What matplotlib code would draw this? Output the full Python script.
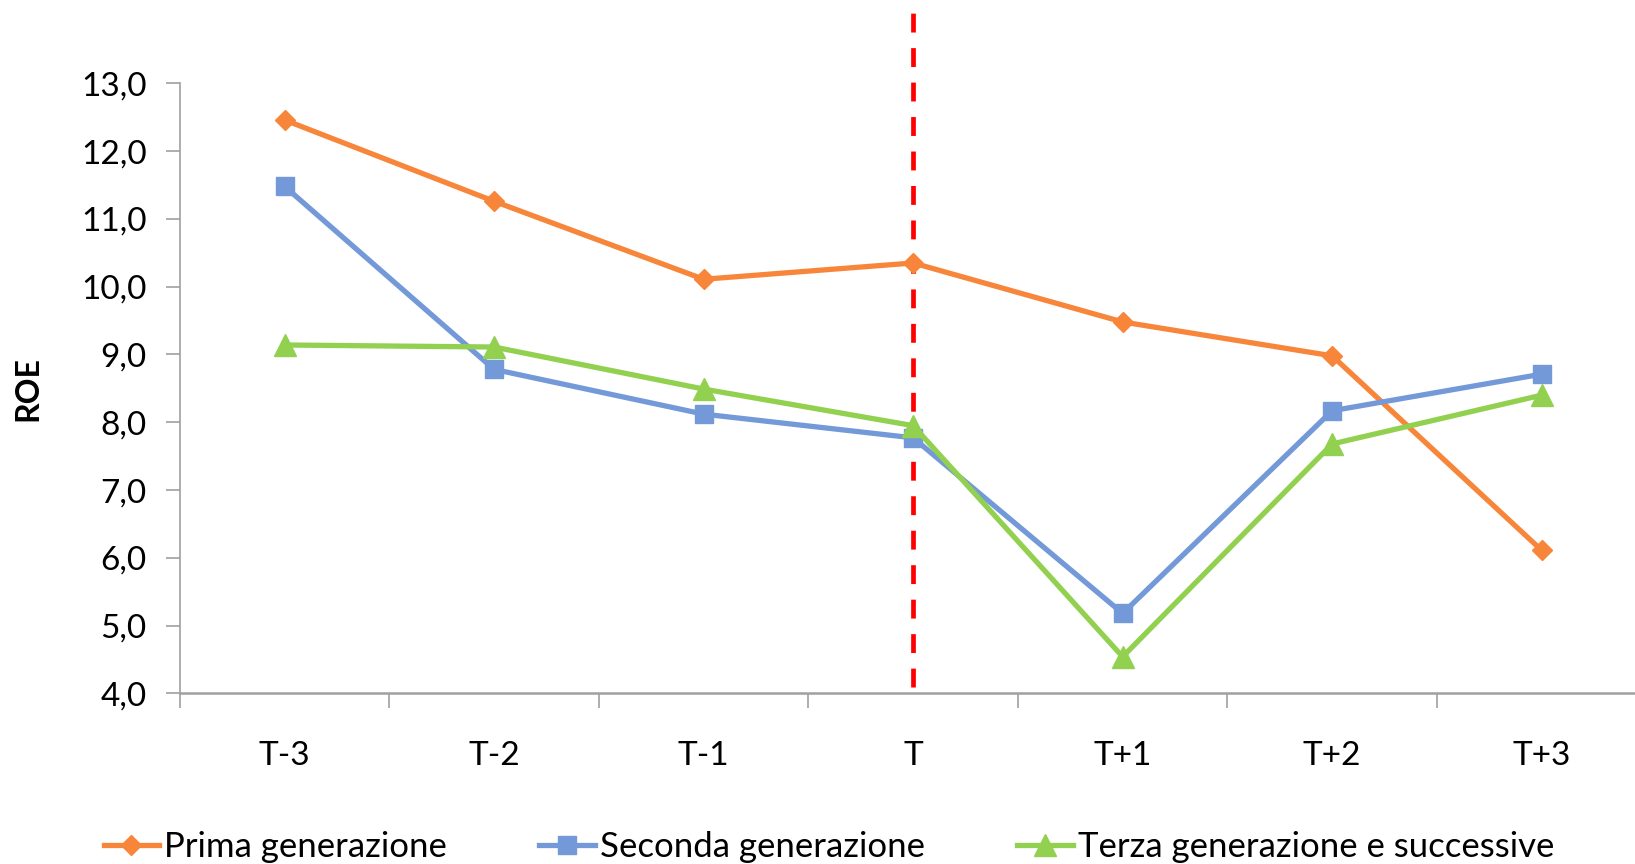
import numpy as np
import matplotlib
matplotlib.use('Agg')
import matplotlib.pyplot as plt
from matplotlib.ticker import FixedLocator

plt.rcParams['font.family'] = ['Lato', 'DejaVu Sans']

periods = ['T-3', 'T-2', 'T-1', 'T', 'T+1', 'T+2', 'T+3']
prima = [12.46, 11.26, 10.11, 10.35, 9.48, 8.98, 6.11]
seconda = [11.48, 8.78, 8.12, 7.77, 5.18, 8.17, 8.71]
terza = [9.14, 9.11, 8.49, 7.95, 4.54, 7.68, 8.40]
names = ['Prima generazione', 'Seconda generazione', 'Terza generazione e successive']
event = 'T'

fig = plt.figure(figsize=(16.35, 8.64), dpi=100)
ax = fig.add_axes([0.110, 0.1975, 0.897, 0.706])

x = np.arange(len(periods))
ax.plot(x, prima, color='#F8863A', lw=3.8, marker='D', ms=10, label=names[0])
ax.plot(x, seconda, color='#7399D8', lw=3.8, marker='s', ms=13.5, label=names[1])
ax.plot(x, terza, color='#92D050', lw=3.8, marker='^', ms=15.5, label=names[2])

# vertical dashed line at the event period
xe = periods.index(event)
ax.plot([xe, xe], [4.1, 14.05], color='#FF0000', lw=3.4, ls=(0, (4, 3.3)), clip_on=False, zorder=1)

ax.set_xlim(-0.5, len(periods) - 0.5)
ax.set_ylim(4, 13)
yt = np.arange(4, 13.5, 1)
ax.set_yticks(yt)
ax.set_yticklabels([('%.1f' % v).replace('.', ',') for v in yt])
ax.set_xticks(x)
ax.set_xticklabels(periods)
ax.xaxis.set_minor_locator(FixedLocator(np.arange(-0.5, len(periods), 1)))
ax.tick_params(axis='x', which='major', length=0, pad=34, labelsize=24)
ax.tick_params(axis='x', which='minor', length=11, color='#A0A0A0', width=1.2)
ax.tick_params(axis='y', length=10, color='#A0A0A0', width=1.2, pad=14, labelsize=24)

for s in ['top', 'right']:
    ax.spines[s].set_visible(False)
ax.spines['left'].set_color('#A0A0A0')
ax.spines['bottom'].set_color('#A0A0A0')
ax.spines['left'].set_linewidth(1.2)
ax.spines['bottom'].set_linewidth(1.8)

ax.set_ylabel('ROE', fontsize=23, fontweight='bold', labelpad=28)

fig.legend(loc='center', bbox_to_anchor=(0.507, 0.02), ncol=3, frameon=False,
           fontsize=25, handlelength=1.6, handletextpad=0.15, columnspacing=2.65)

fig.savefig('out.png', dpi=100)
